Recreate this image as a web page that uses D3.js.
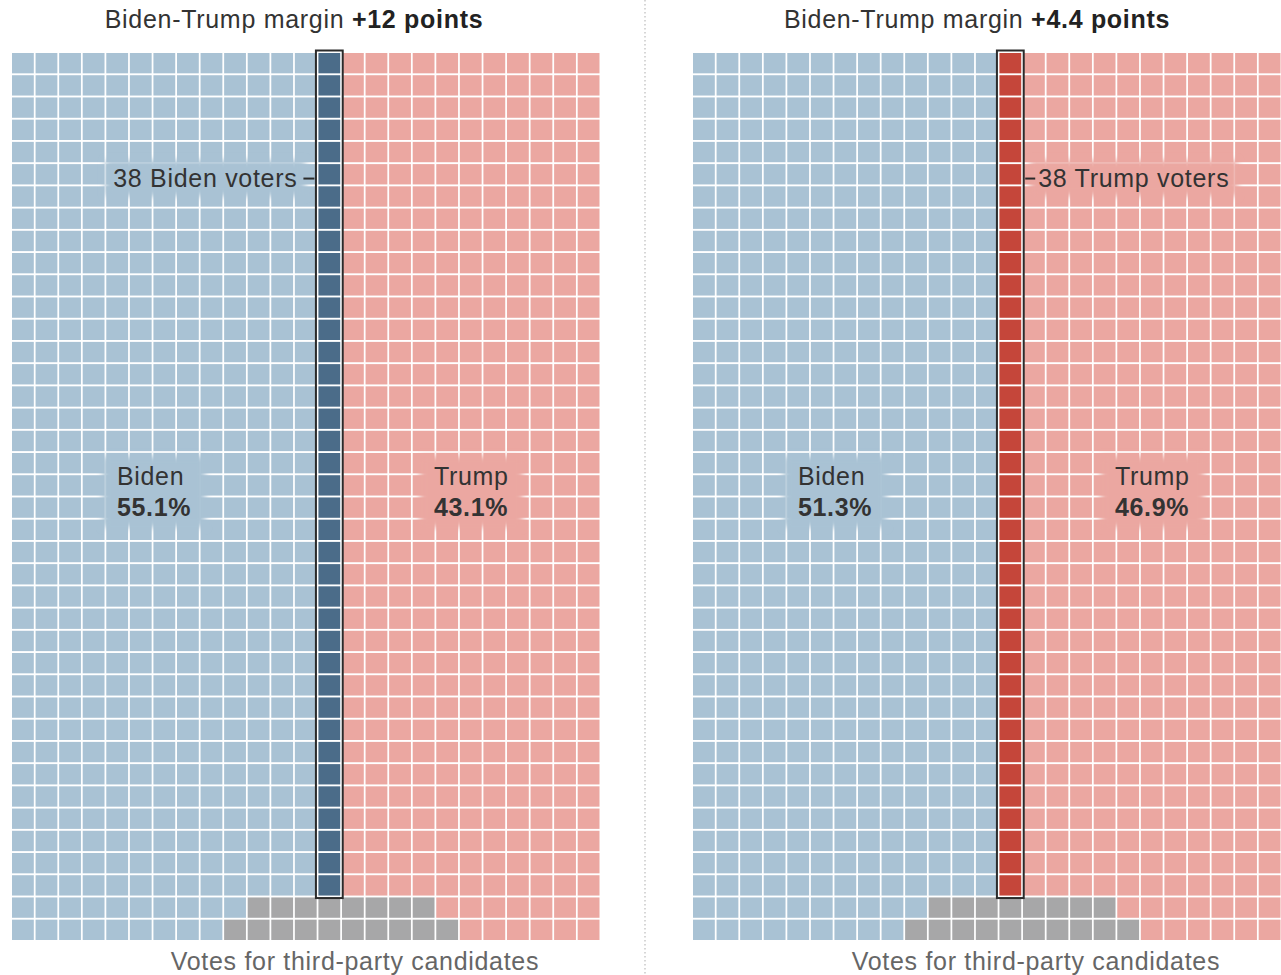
<!DOCTYPE html>
<html>
<head>
<meta charset="utf-8">
<script src="https://cdn.jsdelivr.net/npm/d3@7"></script>
<style>
  body { margin: 0; background: #fff; }
  svg { display: block; font-family: "Liberation Sans", Arial, sans-serif; letter-spacing: 0.7px; }
</style>
</head>
<body>
<svg id="chart"></svg>
<script>
// 2 panels: waffle of 1000 voters (25 x 40)
const marginLabels = ["+12 points", "+4.4 points"];
const bidenShare = [55.1, 51.3];
const trumpShare = [43.1, 46.9];
const bidenVotes = [551, 513];
const trumpVotes = [431, 469];
const thirdVotes = [18, 18];
const highlightCount = [38, 38];
const highlightParty = ["Biden", "Trump"];

const W = 1281, H = 975;
const COLS = 25, ROWS = 40, FULL_ROWS = 38;
const panelX = [12, 693];
const gridW = 587.5;
const gridTop = 53, gridBottom = 940;
const FS = 25;

const colors = {
  Biden: "#a9c2d4",
  Trump: "#eba7a1",
  Third: "#a7a7a8",
  BidenDark: "#4b6c89",
  TrumpDark: "#c5463a"
};

const svg = d3.select("#chart")
  .attr("width", W)
  .attr("height", H);

// soft edge for label backgrounds
svg.append("defs").append("filter")
  .attr("id", "soft")
  .attr("x", "-20%").attr("y", "-40%")
  .attr("width", "140%").attr("height", "180%")
  .append("feGaussianBlur")
  .attr("stdDeviation", 3);

// divider
svg.append("line")
  .attr("x1", 645).attr("x2", 645)
  .attr("y1", 0).attr("y2", H)
  .attr("stroke", "#bbb")
  .attr("stroke-width", 1.2)
  .attr("stroke-dasharray", "1.5,2.5");

const y = d3.scaleBand()
  .domain(d3.range(ROWS))
  .range([gridTop, gridBottom])
  .paddingInner(0.085);

function buildCells(i) {
  const bCols = Math.floor(bidenVotes[i] / FULL_ROWS);
  const bLeft = bidenVotes[i] - bCols * FULL_ROWS;
  const tCols = COLS - bCols;
  const tLeft = trumpVotes[i] - tCols * FULL_ROWS;
  const bRow = [Math.ceil(bLeft / 2), Math.floor(bLeft / 2)];
  const tRow = [Math.ceil(tLeft / 2), Math.floor(tLeft / 2)];
  const hlCol = highlightParty[i] === "Biden" ? bCols - 1 : bCols;
  const cells = [];
  for (let r = 0; r < ROWS; r++) {
    for (let c = 0; c < COLS; c++) {
      let party;
      if (r < FULL_ROWS) {
        party = c < bCols ? "Biden" : "Trump";
      } else {
        const k = r - FULL_ROWS;
        if (c < bRow[k]) party = "Biden";
        else if (c >= COLS - tRow[k]) party = "Trump";
        else party = "Third";
      }
      const hl = c === hlCol && r < highlightCount[i];
      cells.push({ r, c, party, hl });
    }
  }
  return { cells, hlCol, bCols };
}

// put a blurred box of the cell colour behind a text
function backdrop(g, textSel, fill, padX, padY) {
  const b = textSel.node().getBBox();
  g.insert("rect", function () { return textSel.node(); })
    .attr("x", b.x - padX)
    .attr("y", b.y - padY)
    .attr("width", b.width + padX * 2)
    .attr("height", b.height + padY * 2)
    .attr("fill", fill)
    .attr("filter", "url(#soft)");
}

panelX.forEach((px, i) => {
  const x = d3.scaleBand()
    .domain(d3.range(COLS))
    .range([px, px + gridW])
    .paddingInner(0.075);

  const g = svg.append("g");
  const { cells, hlCol } = buildCells(i);

  g.selectAll("rect.cell")
    .data(cells)
    .join("rect")
    .attr("class", "cell")
    .attr("x", d => x(d.c))
    .attr("y", d => y(d.r))
    .attr("width", x.bandwidth())
    .attr("height", y.bandwidth())
    .attr("fill", d => d.hl ? colors[d.party + "Dark"] : colors[d.party]);

  // outline around highlighted column
  const hx0 = x(hlCol), hx1 = x(hlCol) + x.bandwidth();
  const hy1 = y(highlightCount[i] - 1) + y.bandwidth();
  g.append("rect")
    .attr("x", hx0 - 2.5)
    .attr("y", gridTop - 2.5)
    .attr("width", hx1 - hx0 + 5)
    .attr("height", hy1 - gridTop + 5)
    .attr("fill", "none")
    .attr("stroke", "#2b2b2b")
    .attr("stroke-width", 2);

  // title
  const title = svg.append("text")
    .attr("x", i === 0 ? 294 : 977)
    .attr("y", 28)
    .attr("text-anchor", "middle")
    .attr("font-size", FS)
    .attr("fill", "#333");
  title.append("tspan").text("Biden-Trump margin ");
  title.append("tspan").attr("font-weight", "bold").attr("fill", "#222").text(marginLabels[i]);

  // highlight label
  const ly = y(5) + y.step() * 0.65;
  const party = highlightParty[i];
  const hlText = highlightCount[i] + " " + party + " voters";
  const isLeft = party === "Biden";
  const hlLabel = g.append("text")
    .attr("x", isLeft ? hx0 - 21 : hx1 + 17)
    .attr("y", ly)
    .attr("dy", "0.35em")
    .attr("text-anchor", isLeft ? "end" : "start")
    .attr("font-size", FS)
    .attr("fill", "#333")
    .text(hlText);
  backdrop(g, hlLabel, colors[party], 8, 4);
  g.append("line")
    .attr("x1", isLeft ? hx0 - 15 : hx1 + 4)
    .attr("x2", isLeft ? hx0 - 4 : hx1 + 14)
    .attr("y1", ly).attr("y2", ly)
    .attr("stroke", "#2b2b2b").attr("stroke-width", 2);

  // candidate labels
  const lab = [
    { name: "Biden", share: bidenShare[i], col: 4.45 },
    { name: "Trump", share: trumpShare[i], col: 17.9 }
  ];
  lab.forEach(l => {
    const t = g.append("text")
      .attr("x", px + l.col * x.step())
      .attr("y", gridTop + 19.05 * y.step())
      .attr("font-size", FS)
      .attr("fill", "#333");
    t.append("tspan").attr("dy", "0.35em").text(l.name);
    t.append("tspan")
      .attr("x", px + l.col * x.step())
      .attr("dy", "1.25em")
      .attr("font-weight", "bold")
      .text(d3.format(".1f")(l.share) + "%");
    backdrop(g, t, colors[l.name], 14, 6);
  });

  // third party note
  svg.append("text")
    .attr("x", px + 14.55 * x.step())
    .attr("y", 970)
    .attr("text-anchor", "middle")
    .attr("font-size", FS)
    .attr("fill", "#666")
    .text("Votes for third-party candidates");
});
</script>
</body>
</html>
